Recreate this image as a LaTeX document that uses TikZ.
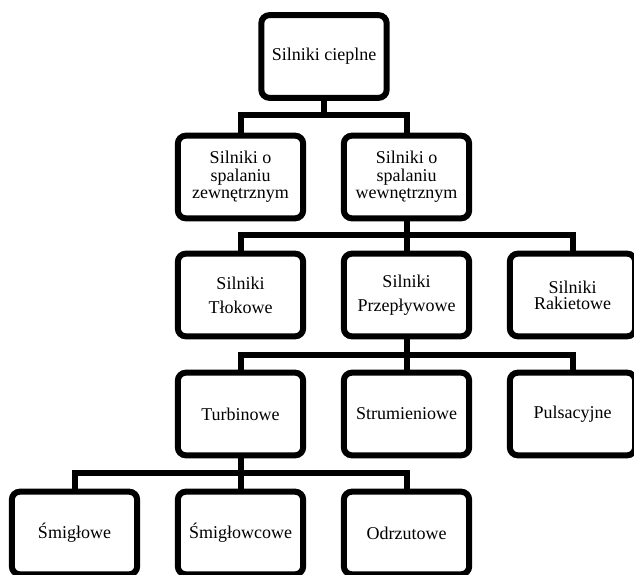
\documentclass[tikz,border=0pt]{standalone}
\usepackage{fontspec}
\setmainfont{Liberation Serif}
\begin{document}
\begin{tikzpicture}[x=0.75pt, y=-0.75pt,
	engine/.style={rectangle, rounded corners=6pt, draw=black, line width=4.5pt, fill=white, minimum width=94pt, minimum height=62pt, align=center, inner sep=2pt, font=\fontsize{13.5pt}{13pt}\selectfont},
	link/.style={draw=black, line width=4.5pt}]
	\useasboundingbox (0, 0) rectangle (634, 574);
	\clip (0, 0) rectangle (634, 574);
	% First layer
	\node [engine] (node-1-1) at (324, 56.5) {Silniki cieplne};
	% Second layer
	\node [engine] (node-2-1) at (240.5, 177) {Silniki o\\spalaniu\\zewnętrznym};
	\node [engine] (node-2-2) at (406.5, 177) {Silniki o\\spalaniu\\wewnętrznym};
	% Third layer
	\node [engine] (node-3-1) at (240.5, 295) {Silniki\\[5pt]Tłokowe};
	\node [engine] (node-3-2) at (406.5, 295) {Silniki\\[5pt]Przepływowe};
	\node [engine] (node-3-3) at (572.5, 295) {Silniki\\[-1pt]Rakietowe};
	% Fourth layer
	\foreach \t [count=\x] in {Turbinowe, Strumieniowe, Pulsacyjne}
		\node [engine] (node-4-\x) at (74.5 + 166 * \x, 414) {\t};
	% Fifth layer
	\foreach \t [count=\x] in {Śmigłowe, Śmigłowcowe, Odrzutowe}
		\node [engine] (node-5-\x) at (-91.5 + 166 * \x, 533) {\t};
	% Bars
	\coordinate (bar-1) at (324, 115);
	\coordinate (bar-2) at (406.5, 235);
	\coordinate (bar-3) at (406.5, 355);
	\coordinate (bar-4) at (240.5, 473);
	% First layer links
	\draw [link] (node-1-1.south) -- (node-1-1.south |- bar-1);
	\foreach \a in {1, 2}
		\draw [link] (node-1-1.south |- bar-1) -| (node-2-\a.north);
	% Second layer links
	\draw [link] (node-2-2.south) -- (node-2-2.south |- bar-2);
	\foreach \a in {1, 2, 3}
		\draw [link] (node-2-2.south |- bar-2) -| (node-3-\a.north);
	% Third layer links
	\draw [link] (node-3-2.south) -- (node-3-2.south |- bar-3);
	\foreach \a in {1, 2, 3}
		\draw [link] (node-3-2.south |- bar-3) -| (node-4-\a.north);
	% Fourth layer links
	\draw [link] (node-4-1.south) -- (node-4-1.south |- bar-4);
	\foreach \a in {1, 2, 3}
		\draw [link] (node-4-1.south |- bar-4) -| (node-5-\a.north);
\end{tikzpicture}
\end{document}
